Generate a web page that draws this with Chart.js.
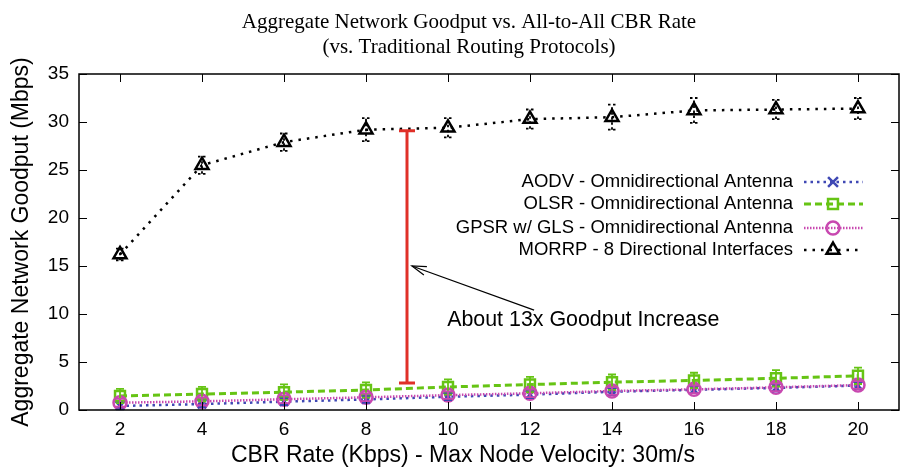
<!DOCTYPE html>
<html><head><meta charset="utf-8">
<script src="https://cdn.jsdelivr.net/npm/chart.js@4"></script>
<style>html,body{margin:0;padding:0;background:#fff}#wrap{width:909px;height:469px}</style>
</head><body><div id="wrap"><canvas id="c" width="909" height="469"></canvas></div>
<script>
const cbrRates = [2,4,6,8,10,12,14,16,18,20];
const xTicks = [2,4,6,8,10,12,14,16,18,20];
const aodv  = [0.42,0.62,0.87,1.1,1.38,1.6,1.9,2.1,2.3,2.55];
const olsr  = [1.46,1.66,1.86,2.08,2.4,2.65,2.9,3.08,3.3,3.56];
const gpsr  = [0.76,0.9,1.12,1.32,1.55,1.74,1.98,2.15,2.36,2.6];
const morrp = [16.2,25.5,27.9,29.2,29.4,30.3,30.5,31.2,31.3,31.4];
const aodvErr  = [0.35,0.35,0.35,0.35,0.35,0.35,0.35,0.35,0.35,0.35];
const olsrErr  = [0.75,0.75,0.8,0.8,0.8,0.8,0.8,0.8,0.85,0.85];
const gpsrErr  = [0.4,0.4,0.4,0.4,0.4,0.4,0.4,0.4,0.4,0.4];
const morrpErr = [0.6,0.9,0.9,1.2,1.0,1.0,1.3,1.3,1.0,1.1];
const gapX = 9, gapLow = 2.8, gapHigh = 29.1;
const arrowTip = [9.12, 15.0], arrowTail = [12.1, 10.4];
const noteText = "About 13x Goodput Increase";
const notePos = [13.3, 9.4];
const seriesNames = ["AODV - Omnidirectional Antenna","OLSR - Omnidirectional Antenna","GPSR w/ GLS - Omnidirectional Antenna","MORRP - 8 Directional Interfaces"];
const xTitle = 'CBR Rate (Kbps) - Max Node Velocity: 30m/s';
const yTitle = 'Aggregate Network Goodput (Mbps)';
const titleLines = ['Aggregate Network Goodput vs. All-to-All CBR Rate', '(vs. Traditional Routing Protocols)'];

const SANS = '"Liberation Sans", Arial, Helvetica, sans-serif';
const SERIF = '"Liberation Serif", "Times New Roman", serif';
const colors = ['#3f48b4','#66c414','#c848b0','#000000'];
const styles = [
  {dash:[2.5,4], width:2.5, point:'crossRot', r:6, edash:[]},
  {dash:[7,4], width:3, point:'rect', r:7, edash:[]},
  {dash:[1.5,1.5], width:2.5, point:'circle', r:6.5, edash:[]},
  {dash:[2.5,6], width:2.5, point:'triangle', r:7.5, edash:[2.5,2.5]}
];
const allVals = [aodv, olsr, gpsr, morrp];
const allErr = [aodvErr, olsrErr, gpsrErr, morrpErr];

const datasets = allVals.map((vals,i)=>({
  label: seriesNames[i],
  data: cbrRates.map((x,j)=>({x, y: vals[j]})),
  errs: allErr[i],
  edash: styles[i].edash,
  borderColor: colors[i],
  backgroundColor: 'rgba(0,0,0,0)',
  borderWidth: styles[i].width,
  borderDash: styles[i].dash,
  pointStyle: styles[i].point,
  pointRadius: styles[i].r,
  pointBorderWidth: 2.5,
  pointBackgroundColor: 'rgba(0,0,0,0)',
  pointBorderColor: colors[i],
  tension: 0,
  order: 4-i
}));

const framePlugin = {
  id:'frame',
  afterDatasetsDraw(chart){
    const {ctx, chartArea:a, scales:{x,y}} = chart;
    ctx.save();
    // error bars
    chart.data.datasets.forEach((ds,i)=>{
      ctx.strokeStyle = ds.borderColor; ctx.lineWidth = 1.8; ctx.setLineDash(ds.edash);
      ds.data.forEach((p,j)=>{
        const px = x.getPixelForValue(p.x);
        const y1 = y.getPixelForValue(p.y - ds.errs[j]);
        const y2 = y.getPixelForValue(p.y + ds.errs[j]);
        ctx.beginPath();
        ctx.moveTo(px,y1); ctx.lineTo(px,y2);
        ctx.moveTo(px-4,y1); ctx.lineTo(px+4,y1);
        ctx.moveTo(px-4,y2); ctx.lineTo(px+4,y2);
        ctx.stroke();
      });
    });
    ctx.setLineDash([]);
    // red gap bar
    ctx.strokeStyle = '#e03028'; ctx.lineWidth = 3;
    const gx = x.getPixelForValue(gapX), gl = y.getPixelForValue(gapLow), gh = y.getPixelForValue(gapHigh);
    ctx.beginPath();
    ctx.moveTo(gx,gl); ctx.lineTo(gx,gh);
    ctx.moveTo(gx-8,gl); ctx.lineTo(gx+8,gl);
    ctx.moveTo(gx-8,gh); ctx.lineTo(gx+8,gh);
    ctx.stroke();
    // arrow
    const tx = x.getPixelForValue(arrowTip[0]), ty = y.getPixelForValue(arrowTip[1]);
    const sx = x.getPixelForValue(arrowTail[0]), sy = y.getPixelForValue(arrowTail[1]);
    ctx.strokeStyle = '#000'; ctx.lineWidth = 1.2;
    ctx.beginPath(); ctx.moveTo(sx,sy); ctx.lineTo(tx,ty); ctx.stroke();
    const ang = Math.atan2(ty-sy, tx-sx), L = 15, W = 0.3;
    ctx.beginPath();
    ctx.moveTo(tx - L*Math.cos(ang-W), ty - L*Math.sin(ang-W));
    ctx.lineTo(tx,ty);
    ctx.lineTo(tx - L*Math.cos(ang+W), ty - L*Math.sin(ang+W));
    ctx.stroke();
    // note text
    ctx.fillStyle = '#000'; ctx.font = '21.4px '+SANS; ctx.textAlign='center'; ctx.textBaseline='middle';
    ctx.fillText(noteText, x.getPixelForValue(notePos[0]), y.getPixelForValue(notePos[1]));
    // border and inward ticks
    ctx.strokeStyle = '#000'; ctx.lineWidth = 1.5;
    ctx.strokeRect(a.left, a.top, a.right-a.left, a.bottom-a.top);
    ctx.lineWidth = 1;
    ctx.beginPath();
    x.ticks.forEach(t=>{
      const px = Math.round(x.getPixelForValue(t.value))+0.5;
      ctx.moveTo(px,a.bottom); ctx.lineTo(px,a.bottom-8);
      ctx.moveTo(px,a.top); ctx.lineTo(px,a.top+8);
    });
    y.ticks.forEach(t=>{
      const py = Math.round(y.getPixelForValue(t.value))+0.5;
      ctx.moveTo(a.left,py); ctx.lineTo(a.left+8,py);
      ctx.moveTo(a.right,py); ctx.lineTo(a.right-8,py);
    });
    ctx.stroke();
    // title
    ctx.font = '21px '+SERIF; ctx.textAlign='center'; ctx.textBaseline='middle';
    ctx.fillText(titleLines[0], 469, 22);
    ctx.fillText(titleLines[1], 469, 47);
    // x axis title
    ctx.font = '23px '+SANS;
    ctx.fillText(xTitle, 463, 456);
    // legend
    const rows = [182,204,228,250];
    ctx.font = '18.5px '+SANS; ctx.textAlign='right';
    chart.data.datasets.forEach((ds,i)=>{
      const ry = rows[i];
      ctx.fillStyle='#000';
      ctx.fillText(seriesNames[i], 793, ry);
      ctx.strokeStyle = ds.borderColor; ctx.lineWidth = ds.borderWidth; ctx.setLineDash(ds.borderDash);
      ctx.beginPath(); ctx.moveTo(804,ry); ctx.lineTo(863,ry); ctx.stroke();
      ctx.setLineDash([]);
      ctx.fillStyle = 'rgba(0,0,0,0)';
      ctx.lineWidth = ds.pointBorderWidth;
      Chart.helpers.drawPoint(ctx, {pointStyle: ds.pointStyle, radius: ds.pointRadius + (i===0?1:0), borderWidth: ds.pointBorderWidth}, 833, ry);
    });
    ctx.restore();
  }
};

new Chart(document.getElementById('c'), {
  type:'line',
  data:{datasets},
  options:{
    responsive:false, animation:false,
    layout:{padding:{top:74,right:1,left:0,bottom:0}},
    plugins:{legend:{display:false}, tooltip:{enabled:false}},
    elements:{line:{borderCapStyle:'butt'}},
    scales:{
      x:{type:'linear', min:1, max:21,
        afterBuildTicks(s){ s.ticks = xTicks.map(v=>({value:v})); },
        afterFit(s){ s.height = 59; },
        grid:{display:false, drawTicks:false}, border:{display:false},
        ticks:{padding:8, color:'#000', font:{family:SANS,size:19}},
        title:{display:false}
      },
      y:{min:0, max:35,
        ticks:{stepSize:5, padding:10, color:'#000', font:{family:SANS,size:19}},
        afterFit(s){ s.width = 79; },
        grid:{display:false, drawTicks:false}, border:{display:false},
        title:{display:true, text:yTitle, color:'#000', font:{family:SANS,size:23}, padding:{top:8,bottom:0}}
      }
    }
  },
  plugins:[framePlugin]
});
</script></body></html>
